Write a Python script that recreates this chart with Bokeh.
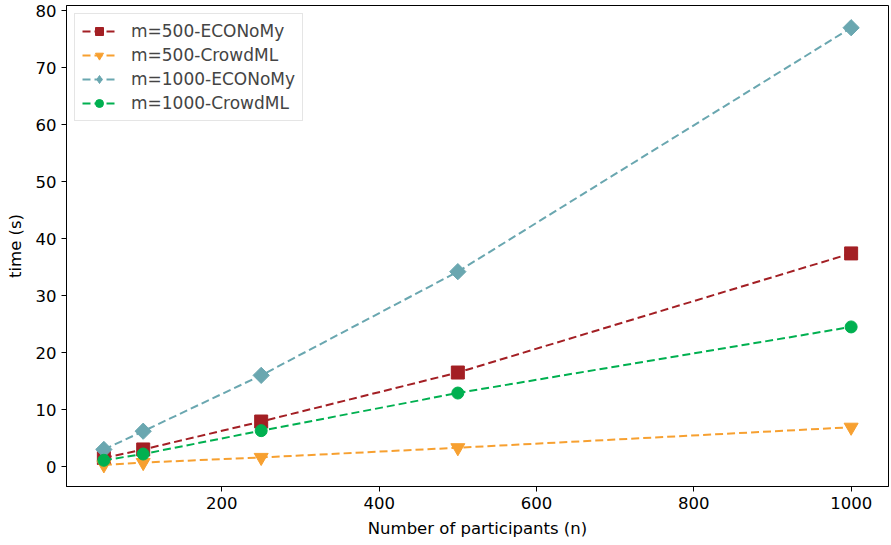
import math
from bokeh.plotting import figure
from bokeh.models import Range1d, FixedTicker, Legend
from bokeh.embed import file_html
from bokeh.resources import INLINE

participants = [50, 100, 250, 500, 1000]
m500_economy = [1.5, 3.0, 7.9, 16.5, 37.4]
m500_crowdml = [0.3, 0.7, 1.6, 3.3, 6.9]
m1000_economy = [3.0, 6.2, 16.0, 34.2, 77.0]
m1000_crowdml = [1.1, 2.2, 6.3, 12.9, 24.5]

series = [
    ("m=500-ECONoMy", m500_economy, "#a31f24", "square", 13, 0.0),
    ("m=500-CrowdML", m500_crowdml, "#f7a030", "inverted_triangle", 14, 0.0),
    ("m=1000-ECONoMy", m1000_economy, "#6aa7b0", "square", 11.5, math.pi / 4),
    ("m=1000-CrowdML", m1000_crowdml, "#00b050", "circle", 12, 0.0),
]

FONT = "DejaVu Sans"

p = figure(width=889, height=540, output_backend="svg", toolbar_location=None,
           x_range=Range1d(2.5, 1047.5), y_range=Range1d(-3.5, 80.9),
           min_border_left=66, min_border_right=1, min_border_top=5, min_border_bottom=54)
p.background_fill_color = "white"
p.border_fill_color = "white"
p.outline_line_color = "black"
p.outline_line_width = 1
p.xgrid.visible = False
p.ygrid.visible = False

items = []
for label, ys, color, marker, size, ang in series:
    r1 = p.line(participants, ys, line_color=color, line_width=2, line_dash="8 4")
    if ang:
        # diamond used for the legend swatch, hidden under the rotated squares
        r_leg = p.scatter(participants, ys, marker="diamond", size=9,
                          fill_color=color, line_color=color)
    r2 = p.scatter(participants, ys, marker=marker, size=size, angle=ang,
                   fill_color=color, line_color=color)
    items.append((label, [r1, r_leg] if ang else [r1, r2]))

legend = Legend(items=items, location="top_left")
legend.label_text_font = FONT
legend.label_text_font_size = "17px"
legend.border_line_color = "#cccccc"
legend.border_line_width = 1
legend.margin = 8
legend.padding = 7
legend.spacing = 4
legend.label_height = 20
legend.glyph_height = 20
legend.glyph_width = 34
legend.label_standoff = 15
legend.background_fill_alpha = 0.9
p.add_layout(legend)

for ax in (p.xaxis, p.yaxis):
    ax.major_label_text_font = FONT
    ax.major_label_text_font_size = "16.5px"
    ax.axis_label_text_font = FONT
    ax.axis_label_text_font_size = "16.5px"
    ax.axis_label_text_font_style = "normal"
    ax.major_tick_out = 5
    ax.major_tick_in = 0
    ax.minor_tick_out = 0
    ax.minor_tick_in = 0
    ax.axis_line_color = "black"
    ax.major_tick_line_color = "black"
    ax.major_label_text_color = "black"
    ax.axis_label_text_color = "black"
    ax.major_label_standoff = 5

p.xaxis.ticker = FixedTicker(ticks=[200, 400, 600, 800, 1000])
p.yaxis.ticker = FixedTicker(ticks=[0, 10, 20, 30, 40, 50, 60, 70, 80])
p.xaxis.axis_label = "Number of participants (n)"
p.yaxis.axis_label = "time (s)"
p.xaxis.axis_label_standoff = 7
p.yaxis.axis_label_standoff = 8

open("out.html", "w").write(file_html(p, INLINE))
